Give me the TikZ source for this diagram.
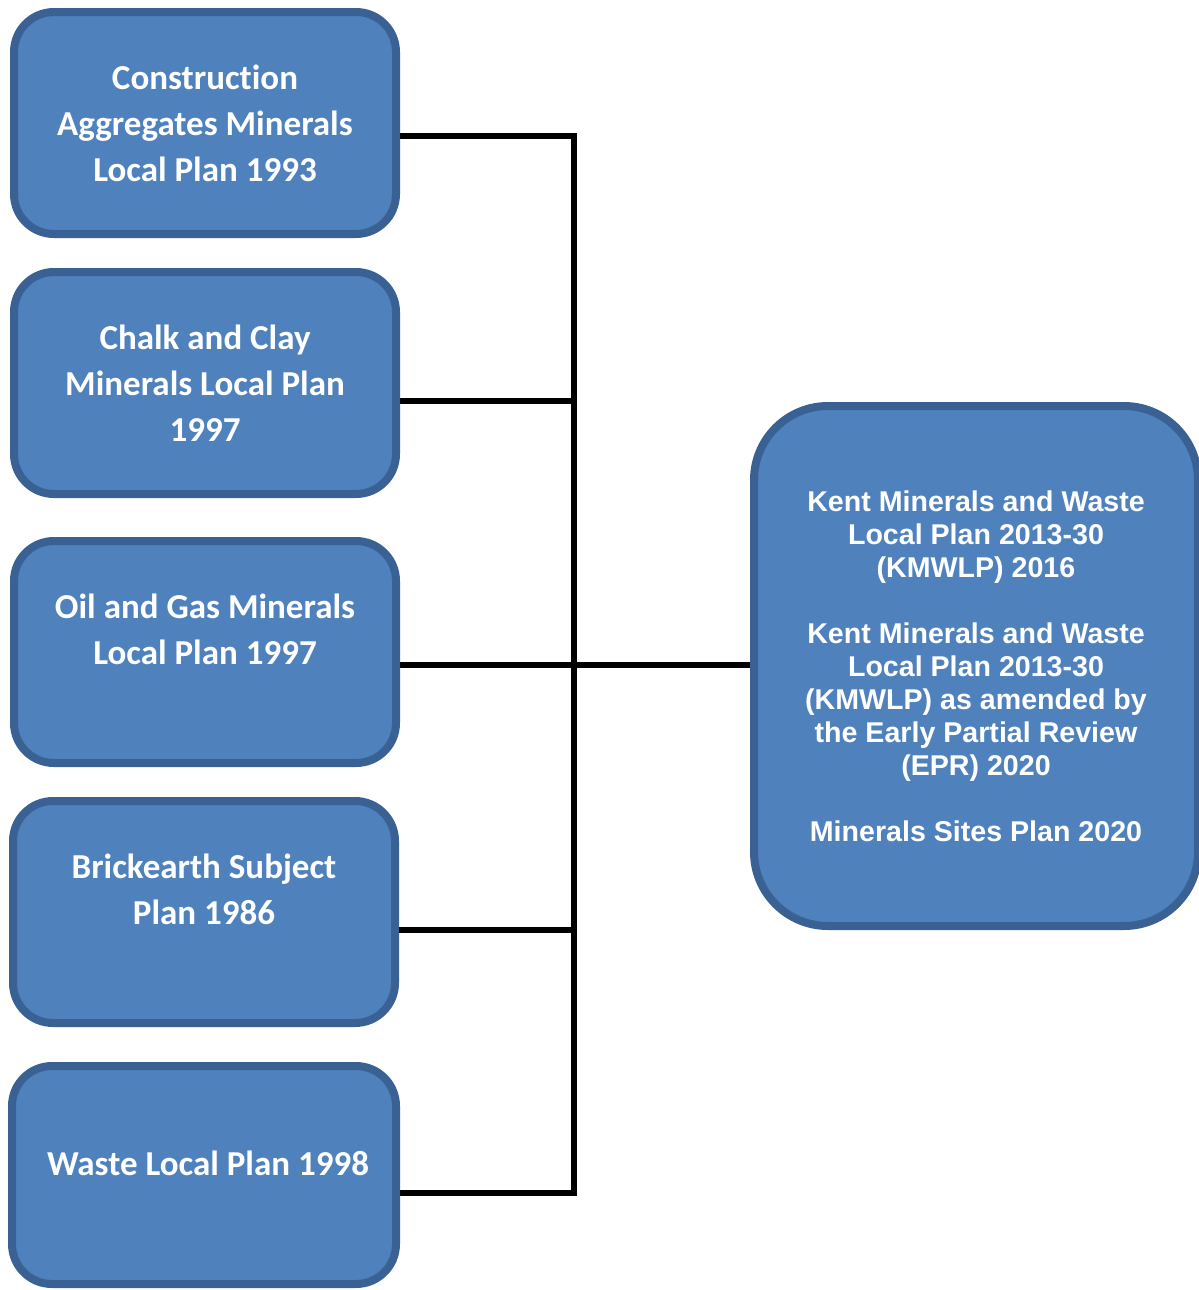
\documentclass[tikz,border=0pt]{standalone}
\usepackage{fontspec}
\setmainfont[Ligatures=NoCommon]{Carlito}
\newfontfamily\arialfont{Liberation Sans}
\definecolor{boxfill}{HTML}{4F81BD}
\definecolor{boxline}{HTML}{3A6193}
\begin{document}
\begin{tikzpicture}[x=0.5pt,y=-0.5pt,
  planbox/.style={draw=boxline, fill=boxfill, line width=4pt, rounded corners=20pt,
    minimum width=191pt, minimum height=111pt, inner sep=0pt, align=center,
    text=white, font=\fontsize{17.5pt}{23pt}\selectfont\bfseries},
  bigbox/.style={draw=boxline, fill=boxfill, line width=4pt, rounded corners=37pt,
    minimum width=222pt, minimum height=260pt, inner sep=0pt, align=center,
    text=white, font=\arialfont\fontsize{14.3pt}{16.5pt}\selectfont\bfseries},
  link/.style={draw=black, line width=3pt, line join=miter}]
\useasboundingbox (0,0) rectangle (1199,1290);

\node[planbox] (b1) at (205,123) {Construction\\Aggregates Minerals\\Local Plan 1993};
\node[planbox] (b2) at (205,383) {Chalk and Clay\\Minerals Local Plan\\1997};
\node[planbox] (b3) at (205,652) {Oil and Gas Minerals\\Local Plan 1997\\\mbox{}};
\node[planbox] (b4) at (204,912) {Brickearth Subject\\Plan 1986\\\mbox{}};
\node[planbox, minimum width=192pt, minimum height=109pt] (b5) at (204,1175) {};
\node[text=white, font=\fontsize{17.5pt}{23pt}\selectfont\bfseries, inner sep=0pt] (t5) at (208,1163) {Waste Local Plan 1998};

\node[bigbox] (r) at (976,666) {Kent Minerals and Waste\\Local Plan 2013-30\\(KMWLP) 2016\\[16.5pt]Kent Minerals and Waste\\Local Plan 2013-30\\(KMWLP) as amended by\\the Early Partial Review\\(EPR) 2020\\[16.5pt]Minerals Sites Plan 2020};

\coordinate (j1) at (574,136);
\coordinate (j2) at (574,401);
\coordinate (j3) at (574,665);
\coordinate (j4) at (574,930);
\coordinate (j5) at (574,1193);

\draw[link] (b1.east |- j1) -- (j1) -- (j5) -- (b5.east |- j5);
\draw[link] (b2.east |- j2) -- (j2);
\draw[link] (b3.east |- j3) -- (r.west |- j3);
\draw[link] (b4.east |- j4) -- (j4);
\end{tikzpicture}
\end{document}
